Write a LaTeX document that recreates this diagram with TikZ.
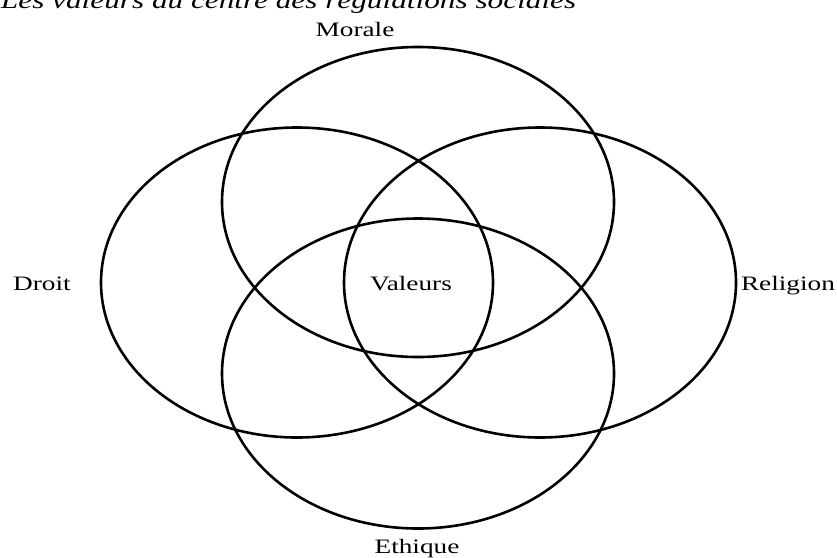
\documentclass[tikz,border=0pt]{standalone}
\usepackage{fontspec}
\setmainfont[FakeStretch=1.33]{Liberation Serif}
\begin{document}
\begin{tikzpicture}[x=1pt, y=-1pt]
\tikzset{ ring/.style={line width=2.6pt}, lbl/.style={inner sep=0pt, outer sep=0pt, anchor=base, font=\fontsize{20.5}{24}\selectfont}, }

\clip (0,0) rectangle (837,557);

% title, cut at the top
\node [lbl, anchor=base west, font=\itshape\fontsize{23.5}{28}\selectfont] (titre) at (1,8) {Les valeurs au centre des régulations sociales};

% the four rings
\draw [ring] (418,202)   ellipse [x radius=196pt, y radius=155pt];
\draw [ring] (297,282.5) ellipse [x radius=196pt, y radius=155pt];
\draw [ring] (540,282.5) ellipse [x radius=196pt, y radius=155pt];
\draw [ring] (418,373.5) ellipse [x radius=196pt, y radius=155pt];

\node [lbl] (morale)   at (355,36)  {Morale};
\node [lbl] (droit)    at (42,290)  {Droit};
\node [lbl] (valeurs)  at (411,290) {Valeurs};
\node [lbl, anchor=base west] (religion) at (741,290) {Religion};
\node [lbl] (ethique)  at (417,553) {Ethique};

\end{tikzpicture}
\end{document}
